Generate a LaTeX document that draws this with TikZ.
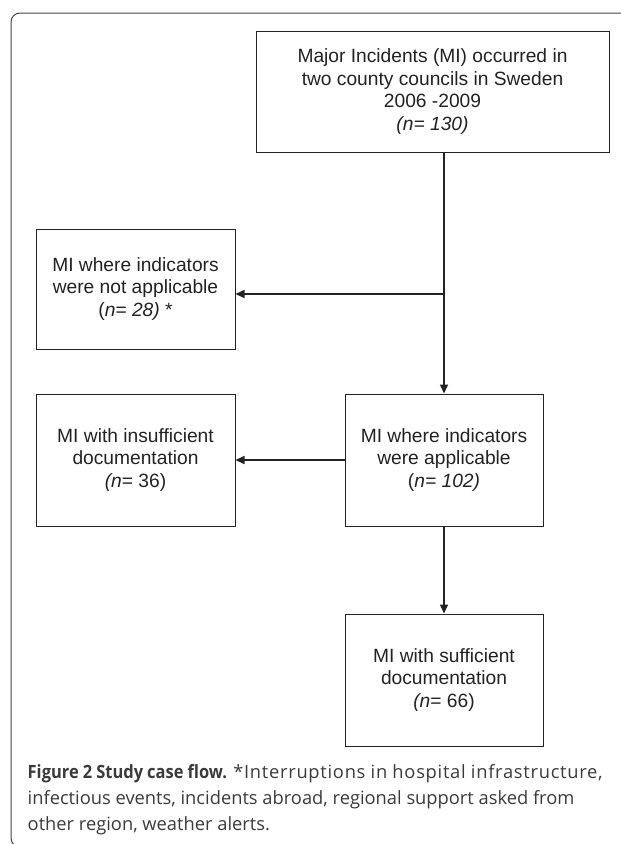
\documentclass[tikz,border=0pt]{standalone}
\usepackage{fontspec}
\setmainfont{Liberation Sans}
\newfontfamily\capfont{Open Sans}
\newfontfamily\capwide{Open Sans}[LetterSpace=4]
\newfontfamily\capbold{Open Sans}[FakeStretch=0.9]
\usetikzlibrary{arrows.meta}
\definecolor{ink}{HTML}{222222}
\definecolor{frame}{HTML}{444444}
\definecolor{captext}{HTML}{3A3A3A}
\begin{document}
\begin{tikzpicture}[x=1pt,y=-1pt,
  box/.style={draw=ink,line width=1pt,rectangle,align=center,text=ink,
    font=\fontsize{19.2}{22.5}\selectfont,inner sep=0pt},
  flow/.style={draw=ink,line width=1.5pt,-{Triangle[length=9pt,width=8pt]}},
  plain/.style={draw=ink,line width=1.5pt},
  capline/.style={anchor=base west,inner sep=0pt,text=captext,
    font=\capfont\fontsize{18.3}{26}\selectfont}]
\useasboundingbox (0,0) rectangle (621,844);
\begin{scope}
\clip (0,0) rectangle (621,844);
\draw[frame,line width=1pt,rounded corners=9pt] (680,13) -- (11,13) -- (11,847) -- (680,847);
\end{scope}
\node[box,minimum width=353pt,minimum height=121pt] (top) at (432.5,91.5)
  {Major Incidents (MI) occurred in\\two county councils in Sweden\\2006 -2009\\\textit{(n= 130)}};
\node[box,minimum width=199pt,minimum height=120pt] (na) at (135.5,289)
  {MI where indicators\\were not applicable\\(\textit{n= 28)} *};
\node[box,minimum width=198pt,minimum height=132pt] (app) at (444,460)
  {MI where indicators\\were applicable\\(\textit{n= 102)}};
\node[box,minimum width=199pt,minimum height=132pt] (ins) at (135.5,460)
  {MI with insufficient\\documentation\\\textit{(n}= 36)};
\node[box,minimum width=198pt,minimum height=132pt] (suf) at (444,680)
  {MI with sufficient\\documentation\\\textit{(n}= 66)};
\coordinate (j1) at (444,294);
\draw[plain] (app.north |- top.south) -- (j1);
\draw[flow] (j1) -- (app.north);
\draw[flow] (j1) -- (j1 -| na.east);
\draw[flow] (app.west) -- (ins.east);
\draw[flow] (app.south) -- (suf.north);
\node[capline] (cap1) at (27.5,778)
  {\makebox[575pt][s]{{\capbold\bfseries Figure 2 Study case flow.} {\capwide *Interruptions in hospital infrastructure,}}};
\node[capline] (cap2) at (27.5,804)
  {infectious events, incidents abroad, regional support asked from};
\node[capline] (cap3) at (27.5,830)
  {other region, weather alerts.};
\end{tikzpicture}
\end{document}
